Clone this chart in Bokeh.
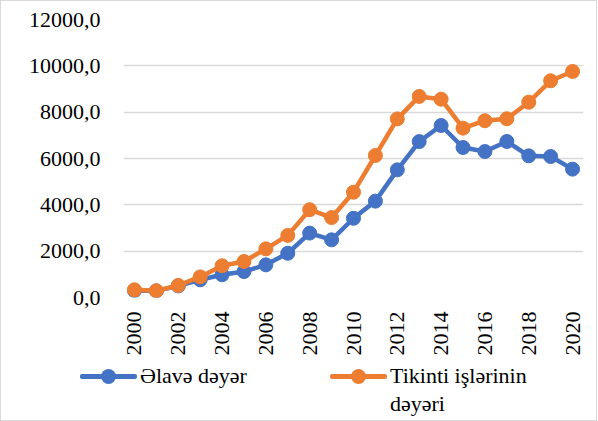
from bokeh.plotting import figure
from bokeh.models import ColumnDataSource, FixedTicker, Range1d, Div
from bokeh.layouts import column
from bokeh.embed import file_html
from bokeh.resources import INLINE

years = list(range(2000, 2021))
elave = [300, 285, 500, 765, 980, 1120, 1410, 1910, 2780, 2490, 3420, 4160, 5510,
         6730, 7425, 6475, 6300, 6735, 6115, 6085, 5540]
tikinti = [332, 290, 520, 890, 1370, 1555, 2100, 2680, 3790, 3450, 4545, 6130, 7710,
           8680, 8560, 7310, 7630, 7715, 8430, 9355, 9755]
y_ticks = [0, 2000, 4000, 6000, 8000, 10000, 12000]
y_labels = ["0,0", "2000,0", "4000,0", "6000,0", "8000,0", "10000,0", "12000,0"]
x_ticks = [2000, 2002, 2004, 2006, 2008, 2010, 2012, 2014, 2016, 2018, 2020]
x_labels = ["2000", "2002", "2004", "2006", "2008", "2010", "2012", "2014", "2016", "2018", "2020"]
series_names = ["Əlavə dəyər", "Tikinti işlərinin<br>dəyəri"]

BLUE = "#4472C4"
ORANGE = "#ED7D31"
FONT = "Liberation Serif"
CSS_FONT = "'Times New Roman', 'Liberation Serif', 'DejaVu Serif', serif"

src = ColumnDataSource(dict(x=years, a=elave, b=tikinti))

p = figure(frame_width=460, frame_height=278, output_backend="svg", toolbar_location=None,
           x_range=Range1d(1999.5, 2020.5), y_range=Range1d(0, 12000),
           min_border_left=122, min_border_right=13, min_border_top=18, min_border_bottom=60,
           background_fill_color="white", border_fill_color="white")
p.outline_line_color = None

p.line("x", "a", source=src, line_color=BLUE, line_width=4.5)
p.scatter("x", "a", source=src, size=14, fill_color=BLUE, line_color=BLUE)
p.line("x", "b", source=src, line_color=ORANGE, line_width=4.5)
p.scatter("x", "b", source=src, size=14, fill_color=ORANGE, line_color=ORANGE)

# axes
p.yaxis.ticker = FixedTicker(ticks=y_ticks)
p.yaxis.major_label_overrides = {t: l for t, l in zip(y_ticks, y_labels)}
p.xaxis.ticker = FixedTicker(ticks=x_ticks)
p.xaxis.major_label_overrides = {t: l for t, l in zip(x_ticks, x_labels)}
p.xaxis.major_label_orientation = 1.5707963
for ax in (p.xaxis, p.yaxis):
    ax.axis_line_color = None
    ax.major_tick_line_color = None
    ax.minor_tick_line_color = None
    ax.major_tick_out = 0
    ax.major_tick_in = 0
    ax.major_label_text_font = FONT
    ax.major_label_text_font_size = "22px"
    ax.major_label_text_color = "#000000"
p.yaxis.major_label_standoff = 23
p.xaxis.major_label_standoff = 14

p.xgrid.grid_line_color = None
p.ygrid.grid_line_color = "#d9d9d9"
p.ygrid.grid_line_width = 1.5


def key(left, color, label):
    return (
        f'<div style="position:absolute;left:{left}px;top:16px;width:57px;height:5px;'
        f'background:{color};border-radius:2px"></div>'
        f'<div style="position:absolute;left:{left + 21}px;top:11px;width:15px;height:15px;'
        f'border-radius:50%;background:{color}"></div>'
        f'<div style="position:absolute;left:{left + 60}px;top:4px;line-height:28px;'
        f'white-space:nowrap;font-family:{CSS_FONT}">{label}</div>'
    )


html = (
    f'<div style="position:relative;width:595px;height:62px;'
    f'font-family:{CSS_FONT};font-size:22px;color:#000000">'
    + key(79, BLUE, series_names[0])
    + key(329, ORANGE, series_names[1])
    + '</div>'
)
lg = Div(text=html, width=595, height=62, margin=0)

layout = column(p, lg, spacing=0, styles={"border": "1px solid #d9d9d9"})

open("out.html", "w").write(file_html(layout, INLINE))
